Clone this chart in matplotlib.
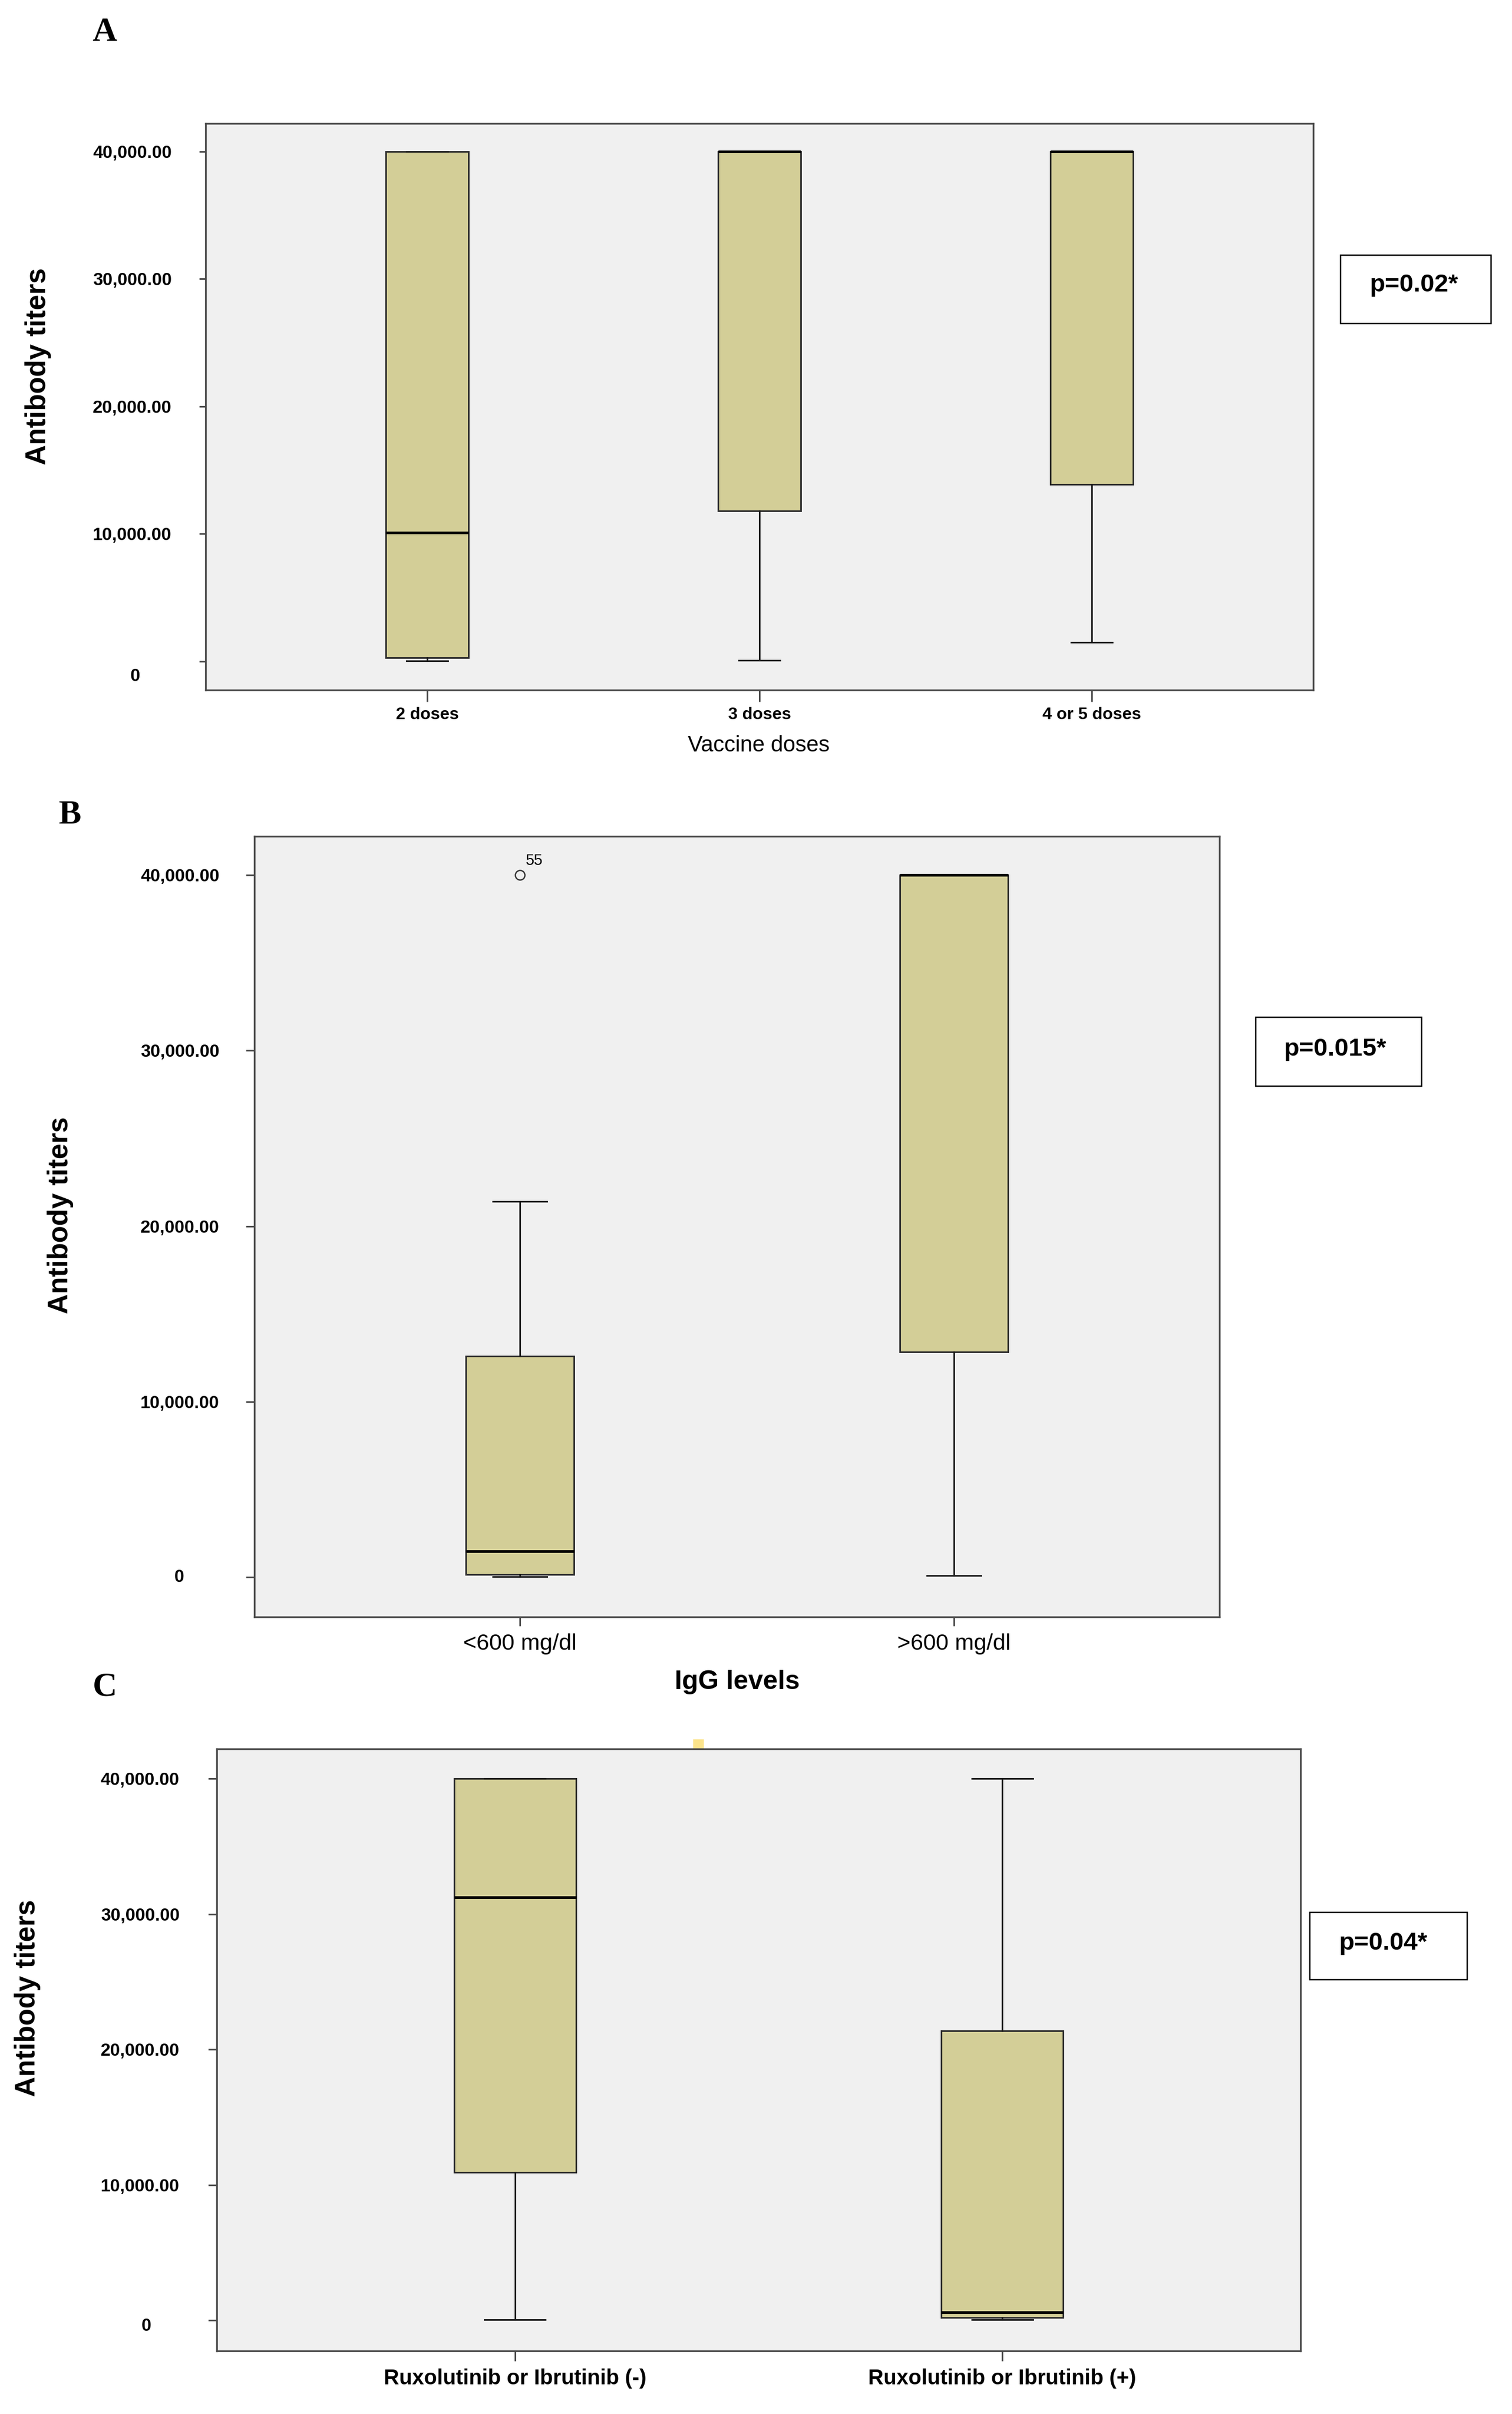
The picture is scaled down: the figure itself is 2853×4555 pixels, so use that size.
#*******************************************************************************
#plot.py
#*******************************************************************************
#Purpose:
#Three SPSS-style boxplots of antibody titers (A: vaccine doses, B: IgG levels,
#C: Ruxolutinib or Ibrutinib), each with a p-value box on the right.

import matplotlib
matplotlib.use('Agg')
import matplotlib.pyplot as plt
from matplotlib.patches import Rectangle


#*******************************************************************************
#Data
#*******************************************************************************
A_cat=['2 doses','3 doses','4 or 5 doses']
A_whislo=[30,80,1500]
A_q1=[290,11800,13900]
A_med=[10100,40000,40000]
A_q3=[40000,40000,40000]
A_whishi=[40000,40000,40000]
A_fliers=[[],[],[]]

B_cat=['<600 mg/dl','>600 mg/dl']
B_whislo=[30,90]
B_q1=[150,12850]
B_med=[1500,40000]
B_q3=[12600,40000]
B_whishi=[21400,40000]
B_fliers=[[40000],[]]
B_flier_id='55'

C_cat=['Ruxolutinib or Ibrutinib (-)','Ruxolutinib or Ibrutinib (+)']
C_whislo=[50,50]
C_q1=[10950,200]
C_med=[31250,600]
C_q3=[40000,21400]
C_whishi=[40000,40000]
C_fliers=[[],[]]

Y_ticks=[0,10000,20000,30000,40000]
Y_labels=['','10,000.00','20,000.00','30,000.00','40,000.00']

P_txt=['p=0.02*','p=0.015*','p=0.04*']


#*******************************************************************************
#Figure set up
#*******************************************************************************
plt.rcParams['font.family']=['Liberation Sans','DejaVu Sans']

IS_W=2853
IS_H=4555
fig=plt.figure(figsize=(IS_W/100,IS_H/100),dpi=100)
fig.patch.set_facecolor('white')

def px_rect(l,t,r,b):
     #pixel box (left, top, right, bottom) to figure fraction
     return [l/IS_W,1-b/IS_H,(r-l)/IS_W,(b-t)/IS_H]

def stats_of(whislo,q1,med,q3,whishi,fliers):
     return [dict(whislo=whislo[i],q1=q1[i],med=med[i],q3=q3[i],
                  whishi=whishi[i],fliers=fliers[i]) for i in range(len(med))]

YS_spine='#4a4a4a'


def draw_panel(rect,cats,stats,xpad,ylen,xlen,ylpad,xfs,xbold,zero_off,ylab_xy):
     ax=fig.add_axes(px_rect(*rect))
     ax.set_facecolor('#f0f0f0')
     pos=list(range(1,len(cats)+1))
     ax.bxp(stats,positions=pos,widths=0.25,capwidths=0.125,
            patch_artist=True,manage_ticks=False,
            boxprops=dict(facecolor='#d3ce97',edgecolor='#2b2b2b',
                          linewidth=2.2),
            whiskerprops=dict(color='#1a1a1a',linewidth=2.2),
            capprops=dict(color='#1a1a1a',linewidth=2.2),
            medianprops=dict(color='black',linewidth=3.6),
            flierprops=dict(marker='o',markerfacecolor='none',
                            markeredgecolor='#333333',markersize=13,
                            markeredgewidth=1.8))
     ax.set_xlim(pos[0]-0.612 if len(cats)==2 else 0.333,
                 pos[-1]+0.612 if len(cats)==2 else 3.667)
     ax.set_ylim(-2250,42200)
     for s in ax.spines.values():
          s.set_color(YS_spine)
          s.set_linewidth(2.4)
     ax.set_yticks(Y_ticks)
     ax.set_yticklabels(Y_labels,fontsize=24,fontweight='bold')
     ax.set_xticks(pos)
     ax.set_xticklabels(cats,fontsize=xfs,
                        fontweight='bold' if xbold else 'normal')
     ax.tick_params(axis='y',direction='out',length=ylen,width=2.2,
                    color=YS_spine,pad=ylpad)
     ax.tick_params(axis='x',direction='out',length=xlen,width=2.2,
                    color=YS_spine,pad=xpad)
     #SPSS draws the "0" label off its usual place
     ax.annotate('0',xy=(0,0),xycoords=('axes fraction','data'),
                 xytext=zero_off,textcoords='offset pixels',ha='center',
                 va='center',fontsize=24,fontweight='bold')
     ax.set_ylabel('Antibody titers',fontsize=38,fontweight='bold',
                   ha='center',va='center')
     ax.yaxis.set_label_coords(*ylab_xy)
     return ax


def p_box(l,t,r,b,txt,cx,cy):
     fig.add_artist(Rectangle((l/IS_W,1-b/IS_H),(r-l)/IS_W,(b-t)/IS_H,
                              transform=fig.transFigure,fill=False,
                              edgecolor='black',linewidth=1.8))
     fig.text(cx/IS_W,1-cy/IS_H,txt,ha='center',va='center',fontsize=34,
              fontweight='bold')


#*******************************************************************************
#Panel A
#*******************************************************************************
axA=draw_panel((388,233,2478,1302),A_cat,
               stats_of(A_whislo,A_q1,A_med,A_q3,A_whishi,A_fliers),
               xpad=7,ylen=9,xlen=16,ylpad=37,xfs=23,xbold=True,
               zero_off=(-133,-29),ylab_xy=(-0.151,0.5716))
axA.set_xlabel('Vaccine doses',fontsize=30,va='center')
axA.xaxis.set_label_coords(0.4995,-0.0982)
p_box(2529,481,2813,610,P_txt[0],2668,538)


#*******************************************************************************
#Panel B
#*******************************************************************************
axB=draw_panel((480,1578,2301,3051),B_cat,
               stats_of(B_whislo,B_q1,B_med,B_q3,B_whishi,B_fliers),
               xpad=10,ylen=11.5,xlen=12,ylpad=36,xfs=31,xbold=False,
               zero_off=(-142,0),ylab_xy=(-0.201,0.5146))
axB.annotate(B_flier_id,xy=(1,B_fliers[0][0]),xytext=(27,27),
             textcoords='offset pixels',ha='center',va='center',fontsize=21)
axB.set_xlabel('IgG levels',fontsize=36,fontweight='bold',va='center')
axB.xaxis.set_label_coords(0.5,-0.0835)
p_box(2369,1919,2682,2049,P_txt[1],2520,1980)


#*******************************************************************************
#Panel C
#*******************************************************************************
axC=draw_panel((409,3300,2454,4436),C_cat,
               stats_of(C_whislo,C_q1,C_med,C_q3,C_whishi,C_fliers),
               xpad=10,ylen=11.5,xlen=14,ylpad=39,xfs=29,xbold=True,
               zero_off=(-133,-11),ylab_xy=(-0.1746,0.586))
p_box(2471,3608,2768,3735,P_txt[2],2610,3667)

#small yellow speck above panel C, as in the scan
fig.add_artist(Rectangle((1308/IS_W,1-3300/IS_H),20/IS_W,18/IS_H,
                         transform=fig.transFigure,facecolor='#fbe38a',
                         edgecolor='none',zorder=-1))


#*******************************************************************************
#Panel letters
#*******************************************************************************
for YS_let,ZS_x,ZS_y in [('A',197,62),('B',132,1539),('C',198,3185)]:
     fig.text(ZS_x/IS_W,1-ZS_y/IS_H,YS_let,ha='center',va='center',
              fontsize=46,fontweight='bold',family='Liberation Serif')


plt.savefig('out.png',dpi=100)


#*******************************************************************************
#End
#*******************************************************************************
